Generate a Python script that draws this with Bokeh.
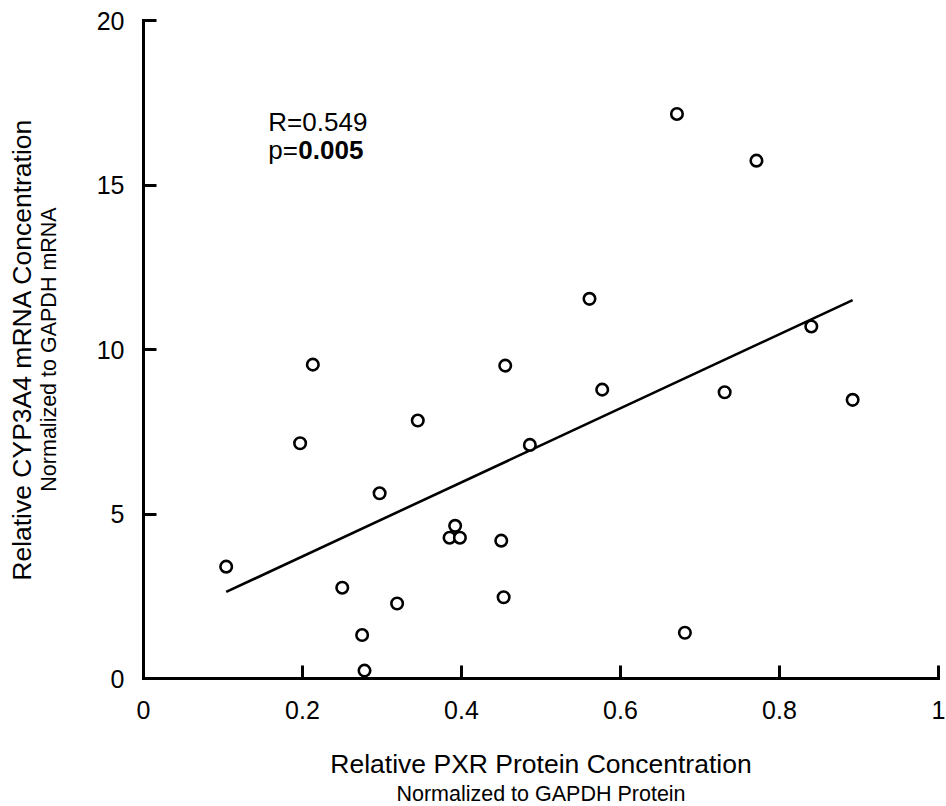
import numpy as np
from bokeh.plotting import figure
from bokeh.models import Label, FixedTicker, Range1d, Title
from bokeh.embed import file_html
from bokeh.resources import INLINE

# ---- data ----
pxr = [0.104, 0.197, 0.213, 0.250, 0.275, 0.278, 0.297, 0.319, 0.345, 0.385, 0.392, 0.398,
       0.450, 0.453, 0.455, 0.486, 0.561, 0.577, 0.671, 0.681, 0.731, 0.771, 0.840, 0.892]
cyp = [3.40, 7.15, 9.54, 2.76, 1.32, 0.24, 5.63, 2.28, 7.84, 4.28, 4.64, 4.28,
       4.19, 2.47, 9.51, 7.10, 11.54, 8.78, 17.16, 1.39, 8.70, 15.74, 10.70, 8.47]

x_ticks = [0, 0.2, 0.4, 0.6, 0.8, 1]
x_tick_labels = ["0", "0.2", "0.4", "0.6", "0.8", "1"]
y_ticks = [0, 5, 10, 15, 20]
y_tick_labels = ["0", "5", "10", "15", "20"]

r_text = "R=0.549"
p_prefix = "p="
p_value = "0.005"

x_title = "Relative PXR Protein Concentration"
x_subtitle = "Normalized to GAPDH Protein"
y_title = "Relative CYP3A4 mRNA Concentration"
y_subtitle = "Normalized to GAPDH mRNA"

FONT = "Liberation Sans"

p = figure(frame_width=795, frame_height=658,
           x_range=Range1d(0, 1), y_range=Range1d(0, 20),
           output_backend="svg", toolbar_location=None,
           min_border_left=143, min_border_right=8, min_border_top=20, min_border_bottom=128,
           outline_line_color=None, background_fill_color="white", border_fill_color="white")
p.grid.visible = False

for ax in (p.xaxis[0], p.yaxis[0]):
    ax.axis_line_width = 3
    ax.axis_line_color = "black"
    ax.axis_line_cap = "square"
    ax.major_tick_in = 13
    ax.major_tick_out = 0
    ax.major_tick_line_width = 3
    ax.major_tick_line_color = "black"
    ax.minor_tick_line_color = None
    ax.major_label_text_font = FONT
    ax.major_label_text_font_size = "25px"
    ax.major_label_text_color = "black"
    ax.axis_label_text_font = FONT
    ax.axis_label_text_font_style = "normal"
    ax.axis_label_text_color = "black"

p.xaxis.ticker = FixedTicker(ticks=x_ticks)
p.xaxis.major_label_overrides = {float(t): l for t, l in zip(x_ticks, x_tick_labels)}
p.yaxis.ticker = FixedTicker(ticks=y_ticks)
p.yaxis.major_label_overrides = {float(t): l for t, l in zip(y_ticks, y_tick_labels)}
p.xaxis.major_label_standoff = 22
p.yaxis.major_label_standoff = 19

# x: main title is the axis label, subtitle is a Title panel below it
p.xaxis.axis_label = x_title
p.xaxis.axis_label_text_font_size = "26.5px"
p.xaxis.axis_label_standoff = 27
p.add_layout(Title(text=x_subtitle, align="center", vertical_align="bottom", standoff=-4,
                   text_font=FONT, text_font_size="21.5px", text_font_style="normal",
                   text_color="black"), "below")

# y: subtitle is the axis label (inner), main title is a Title panel (outer)
p.yaxis.axis_label = y_subtitle
p.yaxis.axis_label_text_font_size = "21.5px"
p.yaxis.axis_label_standoff = 33
p.add_layout(Title(text=y_title, align="center", vertical_align="bottom", standoff=-6,
                   text_font=FONT, text_font_size="26.5px", text_font_style="normal",
                   text_color="black"), "left")

# regression line (least squares through the data)
slope, intercept = np.polyfit(pxr, cyp, 1)
fit_x = [min(pxr), max(pxr)]
fit_y = [intercept + slope * v for v in fit_x]
p.line(fit_x, fit_y, line_color="black", line_width=2.6)

p.scatter(pxr, cyp, marker="circle", size=11.5, fill_color="white",
          line_color="black", line_width=2.6)

# annotation
p.add_layout(Label(x=0.157, y=16.93, text=r_text, text_font=FONT,
                   text_font_size="26px", text_color="black", text_baseline="alphabetic"))
p.add_layout(Label(x=0.157, y=16.05, text=p_prefix, text_font=FONT,
                   text_font_size="26px", text_color="black", text_baseline="alphabetic"))
p.add_layout(Label(x=0.157, y=16.05, x_offset=30, text=p_value, text_font=FONT,
                   text_font_size="26px", text_font_style="bold", text_color="black",
                   text_baseline="alphabetic"))

open("out.html", "w").write(file_html(p, INLINE))
